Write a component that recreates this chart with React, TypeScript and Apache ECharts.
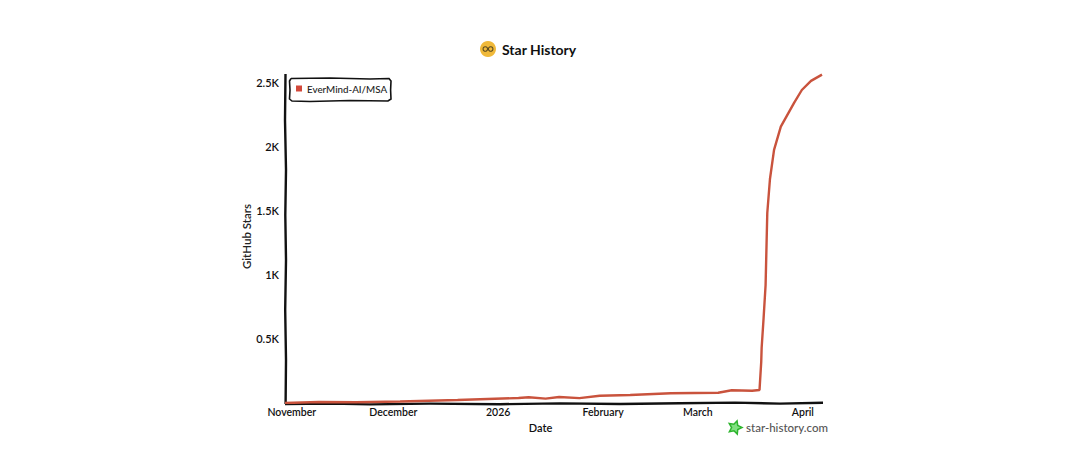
import React, { useEffect, useRef } from "react";
import * as echarts from "echarts";

const seriesName = "EverMind-AI/MSA";
const dates = [
  "2025-10-30T00:00:00", "2025-11-09T00:00:00", "2025-11-20T00:00:00", "2025-12-03T00:00:00", "2025-12-20T00:00:00",
  "2026-01-07T00:00:00", "2026-01-10T00:00:00", "2026-01-15T00:00:00", "2026-01-19T00:00:00", "2026-01-25T00:00:00",
  "2026-01-31T00:00:00", "2026-02-09T00:00:00", "2026-02-21T00:00:00", "2026-03-07T00:00:00", "2026-03-11T00:00:00",
  "2026-03-17T00:00:00", "2026-03-19T05:00:00", "2026-03-19T17:00:00", "2026-03-19T20:00:00", "2026-03-20T10:00:00",
  "2026-03-21T00:00:00", "2026-03-21T07:00:00", "2026-03-21T12:00:00", "2026-03-22T07:00:00", "2026-03-23T12:00:00",
  "2026-03-25T12:00:00", "2026-03-29T10:00:00", "2026-03-31T17:00:00", "2026-04-03T10:00:00", "2026-04-06T16:00:00",
];
const stars = [
  0, 8, 6, 12, 23,
  39, 45, 34, 47, 38,
  57, 62, 76, 80, 100,
  96, 102, 320, 430, 666,
  922, 1250, 1484, 1750, 1977,
  2159, 2344, 2445, 2516, 2565,
];
const xTickDates = ["2025-11-01", "2025-12-01", "2026-01-01", "2026-02-01", "2026-03-01", "2026-04-01"];
const xTickLabels = ["November", "December", "2026", "February", "March", "April"];
const yTickValues = [500, 1000, 1500, 2000, 2500];
const yTickLabels = ["0.5K", "1K", "1.5K", "2K", "2.5K"];

const FONT = "Lato";
const toTime = (s: string) => new Date(s.length > 10 ? s : s + "T00:00:00").getTime();

function starPoints(cx: number, cy: number, R: number, r: number, rot: number) {
  const pts: number[][] = [];
  for (let i = 0; i < 10; i++) {
    const a = rot + (i * Math.PI) / 5;
    const rad = i % 2 === 0 ? R : r;
    pts.push([cx + rad * Math.sin(a), cy - rad * Math.cos(a)]);
  }
  return pts;
}

const yAxisWobble = [[285.5, 74], [285, 120], [286, 170], [285.3, 215], [286, 260], [285.2, 310], [286, 360], [285.6, 404]];
const xAxisWobble = [[285, 404], [330, 403.6], [370, 404.4], [430, 403.6], [500, 404.2], [560, 403.4], [620, 404], [680, 403.2], [735, 402.6], [780, 403.6], [823, 402.8]];
const legendWobble = [[291, 78.5], [330, 78], [370, 79], [389, 78.5], [391, 81], [390.6, 90], [391, 99], [388, 101], [350, 100.5], [310, 101.5], [292, 101], [289.5, 99], [290, 90], [289.5, 81], [291, 78.5]];

export default function App() {
  const ref = useRef<HTMLDivElement>(null);
  useEffect(() => {
    const chart = echarts.init(ref.current!, undefined, { renderer: "svg" });
    chart.setOption({
      animation: false,
      backgroundColor: "#ffffff",
      textStyle: { fontFamily: FONT },
      grid: { left: 285, right: 258, top: 74, bottom: 56 },
      legend: {
        left: 290,
        top: 77.5,
        padding: [6, 6, 6, 6],
        icon: "rect",
        itemWidth: 6,
        itemHeight: 6,
        itemGap: 0,
        data: [seriesName],
        textStyle: { fontFamily: FONT, fontSize: 9.8, color: "#222", fontWeight: 500 },
      },
      xAxis: {
        type: "value",
        min: toTime("2025-10-30"),
        max: toTime("2026-04-06T16:00:00"),
        name: "Date",
        nameLocation: "middle",
        nameGap: 18,
        nameTextStyle: { fontFamily: FONT, fontSize: 11, color: "#111", fontWeight: 600, padding: [0, 26, 0, 0] },
        axisLine: { show: false },
        axisTick: { show: false },
        splitLine: { show: false },
        axisLabel: {
          customValues: xTickDates.map(toTime),
          formatter: (v: number) => xTickLabels[xTickDates.map(toTime).indexOf(v)] ?? "",
          margin: 3,
          fontFamily: FONT,
          fontSize: 10.5,
          color: "#111",
          fontWeight: 600,
          hideOverlap: false,
        },
      },
      yAxis: {
        type: "value",
        min: 0,
        max: 2570,
        name: "GitHub Stars",
        nameLocation: "middle",
        nameGap: 29,
        nameRotate: 90,
        nameTextStyle: { fontFamily: FONT, fontSize: 11.5, color: "#222", fontWeight: 600, padding: [0, 0, 0, 4] },
        axisLine: { show: false },
        axisTick: { show: false },
        splitLine: { show: false },
        axisLabel: {
          customValues: yTickValues,
          formatter: (v: number) => yTickLabels[yTickValues.indexOf(v)] ?? "",
          margin: 6,
          fontFamily: FONT,
          fontSize: 11,
          color: "#111",
          fontWeight: 600,
        },
      },
      series: [
        {
          name: seriesName,
          type: "line",
          showSymbol: false,
          smooth: false,
          z: 5,
          lineStyle: { color: "#c9533d", width: 2.4 },
          itemStyle: { color: "#d2483a" },
          data: dates.map((d, i) => [toTime(d), stars[i]]),
        },
      ],
      graphic: [
        { type: "polyline", silent: true, z: 1, shape: { points: yAxisWobble }, style: { stroke: "#111", lineWidth: 2.4, fill: "none" } },
        { type: "polyline", silent: true, z: 1, shape: { points: xAxisWobble }, style: { stroke: "#111", lineWidth: 2.4, fill: "none" } },
        { type: "polyline", silent: true, z: 1, shape: { points: legendWobble }, style: { stroke: "#111", lineWidth: 1.6, fill: "none" } },
        { type: "circle", shape: { cx: 488, cy: 49, r: 8 }, style: { fill: "#f0b93a" } },
        { type: "ring", shape: { cx: 485.3, cy: 49, r: 2.8, r0: 1.7 }, style: { fill: "#5a4a20" } },
        { type: "ring", shape: { cx: 490.7, cy: 49, r: 2.8, r0: 1.7 }, style: { fill: "#5a4a20" } },
        { type: "text", x: 502, y: 49, style: { text: "Star History", fontFamily: FONT, fontSize: 14, fontWeight: 700, fill: "#111", verticalAlign: "middle" } },
        { type: "polygon", shape: { points: starPoints(735, 427.5, 7, 3.4, 0.3) }, style: { fill: "#7fe07f", stroke: "#2fb52f", lineWidth: 1.5 } },
        { type: "text", x: 746, y: 427, style: { text: "star-history.com", fontFamily: FONT, fontSize: 11.5, fontWeight: 500, fill: "#555", verticalAlign: "middle" } },
      ],
    });
    return () => chart.dispose();
  }, []);
  return <div ref={ref} style={{ position: "fixed", left: 0, top: 0, width: 1080, height: 459 }} />;
}
